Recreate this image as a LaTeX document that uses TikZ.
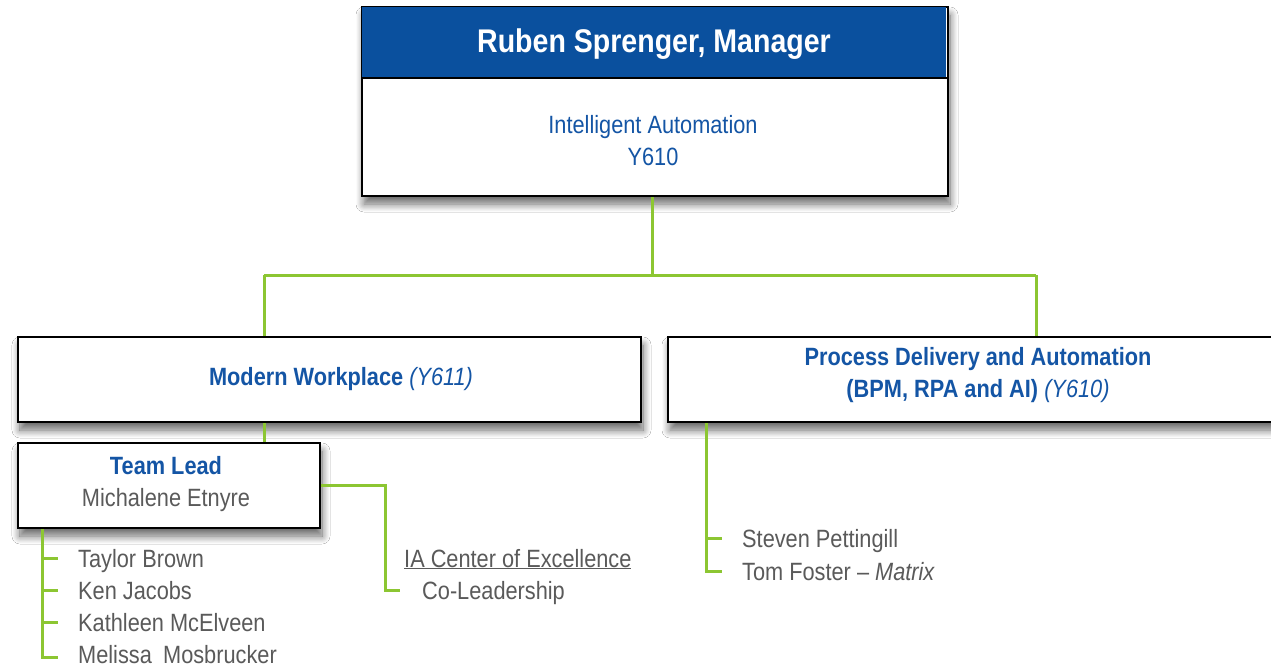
\documentclass[tikz,border=0pt]{standalone}
\usepackage{fontspec}
\setmainfont{Liberation Sans}[FakeStretch=0.87]
\usetikzlibrary{shadows.blur}
\definecolor{hdrblue}{RGB}{10,80,158}
\definecolor{txtblue}{RGB}{20,85,165}
\definecolor{txtgray}{RGB}{90,90,90}
\definecolor{lgreen}{RGB}{140,198,50}
\tikzset{
  box/.style={draw=black,line width=2pt,fill=white,rectangle,inner sep=0pt,anchor=north west,
    blur shadow={shadow xshift=2pt,shadow yshift=-8pt,shadow blur radius=8pt,shadow blur steps=10,shadow opacity=60}},
  conn/.style={draw=lgreen,line width=3pt},
  person/.style={anchor=base west,inner sep=0pt,text=txtgray,font=\fontsize{25}{32}\selectfont},
  bluetxt/.style={text=txtblue,font=\fontsize{25}{32}\selectfont,align=center},
}
\begin{document}
\begin{tikzpicture}[x=1pt,y=-1pt]
\useasboundingbox (0,0) rectangle (1271,666);
\fill[white] (0,0) rectangle (1271,666);
% top box
\node[box,minimum width=586pt,minimum height=189pt] (mgr) at (361,6) {};
\node[anchor=north west,fill=hdrblue,minimum width=584pt,minimum height=71pt,inner sep=0pt] (hdr) at (362,7) {};
\draw[black,line width=2pt] (361,78) -- (947,78);
\node[text=white,font=\bfseries\fontsize{32.8}{36}\selectfont] (title) at (654,44) {Ruben Sprenger, Manager};
\node[bluetxt] (ia) at (653,141) {Intelligent Automation\\Y610};
% second level boxes
\node[box,minimum width=623pt,minimum height=85pt] (mw) at (17,336) {};
\node[bluetxt] (mwt) at (341,379) {\textbf{Modern Workplace} \textit{(Y611)}};
\node[box,minimum width=624pt,minimum height=85pt] (pd) at (667,336) {};
\node[bluetxt] (pdt) at (978,375) {\textbf{Process Delivery and Automation}\\\textbf{(BPM, RPA and AI)} \textit{(Y610)}};
% team lead
\node[box,minimum width=302pt,minimum height=85pt] (tl) at (17,442) {};
\node[align=center,font=\fontsize{25}{32}\selectfont] (tlt) at (166,484) {\textcolor{txtblue}{\textbf{Team Lead}}\\\textcolor{txtgray}{Michalene Etnyre}};
% connectors
\coordinate (bus) at (652,275);
\draw[conn] (mgr.south -| bus) -- (bus);
\draw[conn] (264,275) -- (1036,275);
\draw[conn] (264,275) -- (mw.north -| 264,0);
\draw[conn] (1036,275) -- (pd.north -| 1036,0);
\draw[conn] (mw.south -| 264,0) -- (tl.north -| 264,0);
% team lead members
\node[person] (n1) at (78,567) {Taylor Brown};
\node[person] (n2) at (78,599) {Ken Jacobs};
\node[person] (n3) at (78,631) {Kathleen McElveen};
\node[person] (n4) at (78,663) {Melissa\hspace{0.45em}Mosbrucker};
\draw[conn] (tl.south -| 42,0) -- (42,657) -- (58,657);
\draw[conn] (42,558) -- (58,558);
\draw[conn] (42,590) -- (58,590);
\draw[conn] (42,622) -- (58,622);
% IA CoE
\node[person] (coe) at (404,567) {\underline{IA Center of Excellence}};
\node[person] (col) at (422,599) {Co-Leadership};
\coordinate (colend) at (400,590);
\draw[conn] (tl.east) -| (385,590) -- (colend);
% process members
\node[person] (p1) at (742,547) {Steven Pettingill};
\node[person] (p2) at (742,580) {Tom Foster -- \textit{Matrix}};
\draw[conn] (pd.south -| 706,0) -- (706,571) -- (722,571);
\draw[conn] (706,538) -- (722,538);
\end{tikzpicture}
\end{document}
